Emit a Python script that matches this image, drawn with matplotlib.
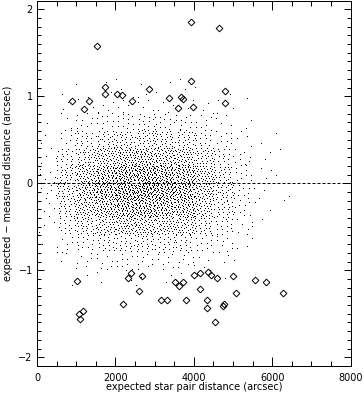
import numpy as np
import matplotlib
matplotlib.use("Agg")
import matplotlib.pyplot as plt
from matplotlib.ticker import MultipleLocator

# star pair offsets flagged as outliers (diamonds)
outlier_dist = [1538, 3935, 4650, 3935, 885, 1207, 1335, 1726, 1743, 2050,
                2170, 2414, 2856, 3374, 3587, 3680, 3723, 3987, 4785, 4785,
                1028, 1165, 1079, 1088, 2202, 2397, 2329, 2686, 2610, 3153,
                3306, 3528, 3613, 3723, 3800, 4004, 4165, 4165, 4352, 4437,
                4590, 4327, 4327, 4735, 4777, 4539, 4998, 5066, 5551, 5832,
                6281]
outlier_diff = [1.58, 1.85, 1.78, 1.18, 0.94, 0.855, 0.95, 1.03, 1.11, 1.02,
                1.01, 0.95, 1.08, 0.98, 0.87, 0.99, 0.97, 0.88, 1.06, 0.92,
                -1.12, -1.47, -1.50, -1.56, -1.39, -1.03, -1.09, -1.07, -1.24, -1.34,
                -1.34, -1.13, -1.18, -1.13, -1.34, -1.06, -1.03, -1.22, -1.02, -1.06,
                -1.09, -1.34, -1.43, -1.41, -1.39, -1.59, -1.07, -1.26, -1.11, -1.13,
                -1.26]

# the bulk of the pairs, read off as counts per cell
# columns: distance bins of 500 arcsec starting at 0; rows: 0.2 arcsec bins, top to bottom
dist_edges = np.arange(0, 6501, 500)
diff_edges = np.arange(1.2, -1.21, -0.2)
pair_counts = np.array([
    [0, 1, 1, 2, 2, 3, 2, 2, 1, 1, 0, 0, 0],
    [0, 2, 3, 4, 5, 5, 4, 4, 3, 2, 1, 0, 0],
    [1, 4, 8, 11, 13, 14, 13, 11, 8, 5, 2, 0, 0],
    [2, 10, 19, 26, 31, 33, 29, 27, 17, 10, 4, 1, 1],
    [4, 20, 36, 49, 58, 61, 55, 49, 33, 19, 8, 2, 1],
    [6, 30, 53, 72, 86, 89, 80, 72, 48, 29, 11, 3, 1],
    [7, 34, 59, 80, 95, 99, 88, 80, 52, 31, 13, 3, 1],
    [5, 28, 48, 65, 76, 80, 71, 65, 42, 26, 10, 2, 1],
    [3, 17, 31, 42, 50, 52, 46, 42, 28, 16, 7, 1, 0],
    [1, 8, 14, 19, 22, 23, 21, 19, 12, 8, 3, 0, 0],
    [0, 3, 6, 8, 9, 9, 8, 8, 5, 3, 1, 0, 0],
    [0, 1, 1, 2, 2, 2, 2, 2, 1, 1, 0, 0, 0],
])

# spread each cell's pairs evenly over the cell (R2 low-discrepancy placement)
a1, a2 = 0.7548776662, 0.5698402910
px, py = [], []
k = 0
for i in range(pair_counts.shape[0]):
    for j in range(pair_counts.shape[1]):
        for _ in range(pair_counts[i, j]):
            k += 1
            u = (0.5 + a1 * k) % 1.0
            v = (0.5 + a2 * k) % 1.0
            px.append(dist_edges[j] + u * (dist_edges[j + 1] - dist_edges[j]))
            py.append(diff_edges[i + 1] + v * (diff_edges[i] - diff_edges[i + 1]))

plt.rcParams['font.family'] = ['DejaVu Sans']
plt.rcParams['font.size'] = 7

fig = plt.figure(figsize=(3.64, 3.97), dpi=100)
ax = fig.add_axes([37 / 364, 31 / 397, 313.7 / 364, 365.5 / 397])

ax.plot(px, py, ',', color='black')
ax.axhline(0, color='black', lw=0.72, linestyle=(0, (3, 2)))
ax.plot(outlier_dist, outlier_diff, 'D', mfc='none', mec='black', mew=0.7, ms=3.4)

ax.set_xlim(0, 8000)
ax.set_ylim(-2.1, 2.1)
ax.xaxis.set_major_locator(MultipleLocator(2000))
ax.xaxis.set_minor_locator(MultipleLocator(500))
ax.yaxis.set_major_locator(MultipleLocator(1))
ax.yaxis.set_minor_locator(MultipleLocator(0.1))
ax.tick_params(which='both', direction='in', top=True, right=True, width=0.72)
ax.tick_params(axis='x', which='major', length=6.2, pad=4.8)
ax.tick_params(axis='x', which='minor', length=3.6)
ax.tick_params(axis='y', which='major', length=5, pad=3)
ax.tick_params(axis='y', which='minor', length=2.9)
for s in ax.spines.values():
    s.set_linewidth(0.72)

ax.set_xlabel('expected star pair distance (arcsec)')
ax.set_ylabel('expected \u2212 measured distance (arcsec)')
ax.xaxis.set_label_coords(0.5, -0.045)
ax.yaxis.set_label_coords(-0.077, 0.5)

fig.savefig('out.png', dpi=100)
